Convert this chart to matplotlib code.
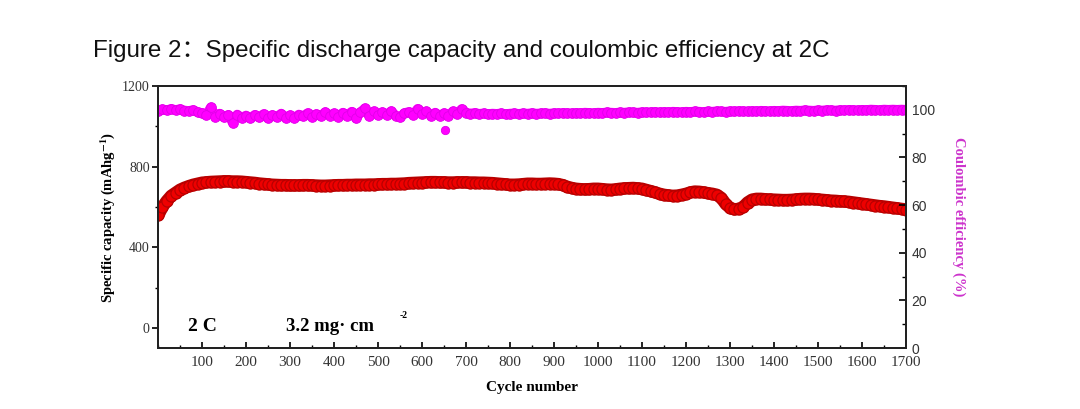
import numpy as np
import matplotlib; matplotlib.use("Agg"); import matplotlib.pyplot as plt
from matplotlib.ticker import MultipleLocator

RED = "#ee0000"; RED_EDGE = "#b80000"
MAG = "#ff00ff"; MAG_EDGE = "#e000e8"
SERIF = "Liberation Serif"; SANS = "Liberation Sans"
plt.rcParams["mathtext.fontset"] = "stix"

# cycle numbers sampled every 10 cycles
cycles = [1] + list(range(10, 1701, 10))

# specific capacity (mAh/g)
capacity = [
    560, 600, 630, 655, 670, 685, 695, 703, 710, 715,
    720, 722, 724, 725, 726, 727, 727, 726, 726, 725,
    723, 721, 719, 716, 714, 712, 710, 709, 708, 708,
    707, 707, 707, 708, 708, 707, 706, 705, 705, 706,
    707, 708, 708, 709, 709, 710, 710, 710, 711, 711,
    712, 713, 713, 714, 714, 715, 716, 718, 719, 720,
    721, 722, 723, 723, 722, 722, 721, 721, 722, 722,
    722, 721, 721, 720, 720, 719, 718, 716, 714, 712,
    710, 710, 711, 713, 715, 715, 714, 714, 715, 716,
    715, 713, 708, 700, 694, 690, 688, 687, 688, 690,
    690, 688, 686, 685, 687, 690, 692, 693, 694, 692,
    690, 684, 678, 672, 665, 660, 657, 655, 656, 660,
    665, 672, 676, 675, 672, 668, 665, 660, 645, 615,
    595, 588, 590, 600, 622, 636, 640, 640, 638, 637,
    636, 635, 634, 634, 635, 637, 639, 640, 640, 639,
    637, 635, 633, 631, 630, 628, 627, 625, 622, 619,
    616, 613, 610, 607, 604, 602, 599, 596, 593, 590,
    587,
]

# coulombic efficiency (%)
efficiency = [
    99.6, 100.2, 99.8, 100.4, 99.9, 100.3, 99.7, 99.5, 99.9, 99.0,
    98.6, 97.8, 101.0, 97.2, 98.4, 96.8, 97.9, 94.6, 98.0, 96.6,
    97.6, 96.4, 97.9, 96.8, 98.2, 96.5, 97.8, 96.9, 98.4, 96.7,
    97.7, 96.6, 98.0, 97.3, 98.6, 97.0, 98.2, 97.4, 99.0, 97.6,
    98.5, 97.2, 98.8, 97.6, 99.2, 96.4, 98.9, 100.6, 97.5, 99.3,
    97.8, 99.0, 98.0, 99.4, 97.6, 96.8, 98.6, 99.1, 97.9, 100.4,
    98.3, 99.3, 97.6, 98.8, 97.4, 98.6, 97.5, 99.3, 98.2, 100.3,
    98.8, 98.4, 98.7, 98.3, 98.5, 98.2, 98.4, 98.3, 98.5, 98.2,
    98.4, 98.5, 98.3, 98.5, 98.4, 98.6, 98.4, 98.5, 98.6, 98.4,
    98.6, 98.5, 98.7, 98.6, 98.5, 98.7, 98.6, 98.8, 98.7, 98.6,
    98.8, 98.7, 98.9, 98.8, 98.7, 98.9, 98.8, 99.0, 98.9, 98.8,
    99.0, 98.9, 99.0, 99.1, 98.9, 99.1, 99.0, 99.2, 99.1, 99.0,
    99.2, 99.1, 99.3, 99.2, 99.1, 99.3, 99.2, 99.4, 99.3, 99.2,
    99.4, 99.3, 99.5, 99.4, 99.3, 99.5, 99.4, 99.6, 99.5, 99.4,
    99.6, 99.5, 99.7, 99.6, 99.5, 99.7, 99.6, 99.8, 99.7, 99.6,
    99.8, 99.7, 99.9, 99.8, 99.7, 99.9, 99.8, 100.0, 99.9, 99.8,
    100.0, 99.9, 100.1, 100.0, 99.9, 100.1, 100.0, 100.1, 100.0, 100.1,
    100.0,
]
outlier_cycle = [652]; outlier_eff = [91.5]

fig = plt.figure(figsize=(10.8, 4.09), dpi=100)
ax = fig.add_axes([0.1463, 0.1491, 0.6926, 0.6406])
ax2 = ax.twinx()

# dense markers plus a thick line under them so the band reads as continuous
ax.plot(cycles, capacity, "-", lw=9, color=RED_EDGE, solid_capstyle="round", zorder=2)
ax.plot(cycles, capacity, "o", ms=8, color=RED, mec=RED_EDGE, mew=0.9, zorder=3)
ax2.plot(cycles, efficiency, "-", lw=7, color=MAG, solid_capstyle="round")
ax2.plot(cycles, efficiency, "o", ms=7, color=MAG, mec=MAG_EDGE, mew=0.6)
ax2.plot(outlier_cycle, outlier_eff, "o", ms=6, color=MAG, mec=MAG_EDGE, mew=0.6)

ax.set_xlim(0, 1700); ax.set_ylim(-100, 1200); ax2.set_ylim(0, 110)
ax.xaxis.set_minor_locator(MultipleLocator(50))
ax.set_xticks(range(100, 1701, 100))
ax.yaxis.set_minor_locator(MultipleLocator(200))
ax.set_yticks([0, 400, 800, 1200])
ax2.yaxis.set_major_locator(MultipleLocator(20)); ax2.yaxis.set_minor_locator(MultipleLocator(10))

ax.tick_params(axis="x", which="both", direction="in", top=False, labelsize=11, pad=6)
ax.tick_params(axis="x", which="major", length=4, width=1.2)
ax.tick_params(axis="x", which="minor", length=2.5, width=1.0)
ax.tick_params(axis="y", which="major", direction="out", length=4, width=1.2, labelsize=10, pad=2)
ax.tick_params(axis="y", which="minor", direction="out", length=2.5, width=1.0)
ax2.tick_params(axis="y", which="major", direction="in", length=5, width=1.2, labelsize=10, pad=4)
ax2.tick_params(axis="y", which="minor", direction="in", length=3, width=1.0)
for lab in ax.get_xticklabels() + ax.get_yticklabels():
    lab.set_family(SERIF); lab.set_color("#333333")
for lab in ax2.get_yticklabels():
    lab.set_family(SANS); lab.set_color("#333333")
for a in (ax, ax2):
    for sp in a.spines.values():
        sp.set_linewidth(1.4); sp.set_color("#222222")

ax.set_xlabel("Cycle number", family=SERIF, weight="bold", fontsize=11)
ax.xaxis.set_label_coords(0.5, -0.126)
ax.set_ylabel(r"Specific capacity (mAhg$^{\mathbf{-1}}$)", family=SERIF, weight="bold", fontsize=10.5)
ax.yaxis.set_label_coords(-0.055, 0.5)
ax2.set_ylabel("Coulombic efficiency (%)", family=SERIF, weight="bold", fontsize=10.5,
               color="#cc33cc", rotation=-90, va="center")
ax2.yaxis.set_label_coords(1.07, 0.5)

ax.text(69, 5, "2 C", family=SERIF, weight="bold", fontsize=14, va="center")
ax.text(290, 5, "3.2 mg\u00b7 cm", family=SERIF, weight="bold", fontsize=13.5, va="center")
ax.text(550, 60, "-2", family=SERIF, weight="bold", fontsize=7, va="center")

fig.text(93/1080, 1 - 51/409, "Figure 2\uff1aSpecific discharge capacity and coulombic efficiency at 2C",
         family=[SANS, "Noto Sans CJK SC"], fontsize=17.4, va="center", color="#111111")

plt.savefig("out.png", dpi=100)
